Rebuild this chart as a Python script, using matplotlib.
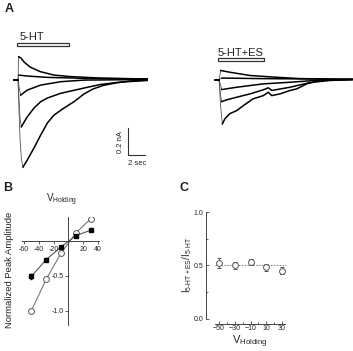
import matplotlib
matplotlib.use("Agg")
import matplotlib.pyplot as plt
import numpy as np
from matplotlib.patches import Rectangle

plt.rcParams['font.family'] = ['Liberation Sans', 'DejaVu Sans']
plt.rcParams['mathtext.fontset'] = 'custom'
plt.rcParams['mathtext.rm'] = 'Liberation Sans'
plt.rcParams['mathtext.it'] = 'Liberation Sans:italic'

# ---- panel A: current traces (time in s, current in nA)
t_ctl_m50 = [-0.47, 0, 0.12, 0.24, 0.41, 0.59, 1.09, 1.88, 2.67, 3.45, 4.24, 5.41, 6.59, 7.76, 8.82, 10.0, 11.41, 13.18, 15.18]
i_ctl_m50 = [0, 0, -0.226, -0.448, -0.596, -0.648, -0.596, -0.507, -0.411, -0.322, -0.263, -0.211, -0.164, -0.107, -0.070, -0.044, -0.026, -0.011, -0.004]
t_ctl_m30 = [-0.47, 0, 0.12, 0.24, 0.39, 1.09, 1.88, 2.67, 3.45, 5.02, 7.76, 9.65, 12.0, 15.18]
i_ctl_m30 = [0, 0, -0.152, -0.285, -0.350, -0.276, -0.211, -0.164, -0.137, -0.102, -0.063, -0.037, -0.019, -0.007]
t_ctl_m10 = [-0.47, 0, 0.18, 0.32, 1.09, 2.67, 5.02, 7.76, 15.18]
i_ctl_m10 = [0, 0, -0.078, -0.115, -0.078, -0.041, -0.016, -0.004, 0]
t_ctl_p10 = [-0.47, 0, 0.08, 1.09, 3.45, 7.76, 15.18]
i_ctl_p10 = [0, 0, 0.033, 0.026, 0.016, 0.009, 0.004]
t_ctl_p30 = [-0.47, 0, 0.08, 0.35, 0.71, 1.41, 2.59, 4.24, 6.12, 9.65, 15.18]
i_ctl_p30 = [0, 0, 0.169, 0.159, 0.130, 0.093, 0.059, 0.033, 0.022, 0.011, 0.004]

t_es_m50 = [-0.47, 0, 0.18, 0.39, 0.71, 1.29, 2.08, 2.86, 4.0, 5.21, 5.8, 6.2, 7.18, 8.35, 9.14, 10.32, 11.88, 15.65]
i_es_m50 = [0, 0, -0.193, -0.328, -0.289, -0.252, -0.230, -0.193, -0.143, -0.119, -0.094, -0.119, -0.106, -0.081, -0.069, -0.032, -0.007, 0]
t_es_m30 = [-0.47, 0, 0.18, 0.32, 0.91, 2.08, 3.65, 5.21, 5.8, 6.2, 8.35, 10.71, 13.06, 15.65]
i_es_m30 = [0, 0, -0.119, -0.163, -0.150, -0.131, -0.106, -0.076, -0.061, -0.081, -0.057, -0.022, -0.007, 0]
t_es_m10 = [-0.47, 0, 0.32, 2.08, 5.21, 8.35, 11.88, 15.65]
i_es_m10 = [0, 0, -0.074, -0.057, -0.032, -0.020, -0.004, 0]
t_es_p10 = [-0.47, 0, 0.35, 4.82, 15.65]
i_es_p10 = [0, 0, 0.011, 0.007, 0.002]
t_es_p30 = [-0.47, 0, 0.2, 1.29, 3.65, 6.71, 9.53, 15.65]
i_es_p30 = [0, 0, 0.067, 0.054, 0.030, 0.017, 0.007, 0.002]

# ---- panel B: I-V
v_hold = [-50, -30, -10, 10, 30]
amp_filled = [-0.51, -0.27, -0.09, 0.07, 0.15]
err_filled = [0.03, 0.02, 0.015, 0.015, 0.015]
amp_open = [-1.0, -0.55, -0.18, 0.11, 0.31]
err_open = [0.0, 0.02, 0.015, 0.015, 0.015]

# ---- panel C: ratio
ratio = [0.52, 0.50, 0.53, 0.48, 0.45]
ratio_err = [0.045, 0.035, 0.03, 0.03, 0.03]

W, H = 353, 351
TXT = '#222222'


def px_rect(l, t, r, b):
    return [l / W, 1 - b / H, (r - l) / W, (b - t) / H]


def draw_trace(ax, t, i, offset=0.0):
    t = np.asarray(t) + offset
    i = np.asarray(i)
    k = int(np.argmax(np.abs(i)))
    # fast onset drawn thin, like the sweep on the original record
    ax.plot(t[1:k + 1], i[1:k + 1], color='#555555', lw=0.6)
    ax.plot(t[:2], i[:2], color='black', lw=1.2)
    ax.plot(t[k:], i[k:], color='black', lw=1.1)


fig = plt.figure(figsize=(W / 100, H / 100), dpi=100)

# ================= A
axA = fig.add_axes(px_rect(0, 20, 353, 180))
axA.set_xlim(-2.118, 39.41)
axA.set_ylim(-0.744, 0.441)
axA.axis('off')

es_offset = 23.65  # start of the second set of traces
for t, i in [(t_ctl_m50, i_ctl_m50), (t_ctl_m30, i_ctl_m30), (t_ctl_m10, i_ctl_m10),
             (t_ctl_p10, i_ctl_p10), (t_ctl_p30, i_ctl_p30)]:
    draw_trace(axA, t, i)
for t, i in [(t_es_m50, i_es_m50), (t_es_m30, i_es_m30), (t_es_m10, i_es_m10),
             (t_es_p10, i_es_p10), (t_es_p30, i_es_p30)]:
    draw_trace(axA, t, i, es_offset)

axA.add_patch(Rectangle((-0.12, 0.248), 6.12, 0.022, facecolor='white', edgecolor='#333333', lw=0.9))
axA.add_patch(Rectangle((23.53, 0.137), 5.41, 0.022, facecolor='white', edgecolor='#333333', lw=0.9))
axA.text(0.24, 0.293, '5-HT', fontsize=8, color=TXT, va='baseline', ha='left')
axA.text(23.53, 0.174, '5-HT+ES', fontsize=8, color=TXT, va='baseline', ha='left')

# scale bar
axA.plot([12.94, 12.94, 14.94], [-0.359, -0.559, -0.559], color='#333333', lw=0.8)
axA.text(12.0, -0.46, '0.2 nA', rotation=90, fontsize=5.5, color=TXT, ha='center', va='center')
axA.text(14.0, -0.62, '2 sec', fontsize=5.5, color=TXT, ha='center', va='center')

# ================= B
axB = fig.add_axes(px_rect(22.5, 216.9, 22.5 + 103 * 0.74, 324.7))
axB.set_xlim(-62, 41)
axB.set_ylim(-1.2, 0.34)
for s in ['top', 'right']:
    axB.spines[s].set_visible(False)
axB.spines['left'].set_position(('data', 0))
axB.spines['bottom'].set_position(('data', 0))
for s in ['left', 'bottom']:
    axB.spines[s].set_color('#444444')
    axB.spines[s].set_linewidth(0.7)
axB.set_xticks([-60, -40, -20, 20, 40])
axB.set_xticklabels(['-60', '-40', '-20', '20', '40'])
axB.set_yticks([-1.0, -0.5])
axB.set_yticklabels(['-1.0', '-0.5'])
axB.tick_params(labelsize=5, colors='#444444', labelcolor=TXT, length=2, width=0.6, pad=1.5)
axB.plot(v_hold, amp_open, color='#777777', lw=0.8, zorder=1)
axB.plot(v_hold, amp_filled, color='#555555', lw=0.8, zorder=1)
axB.errorbar(v_hold, amp_open, yerr=err_open, fmt='o', ms=4.2, mfc='white', mec='#555555',
             mew=0.7, ecolor='#555555', elinewidth=0.6, capsize=0, zorder=3)
axB.errorbar(v_hold, amp_filled, yerr=err_filled, fmt='s', ms=3.0, mfc='black', mec='black',
             ecolor='black', elinewidth=0.6, capsize=1, zorder=4)
fig.text(62 / W, 1 - 200 / H, r'V$_{\mathrm{Holding}}$', fontsize=7, color=TXT, ha='center', va='center')
fig.text(10 / W, 1 - 270 / H, 'Normalized Peak Amplitude', fontsize=6.8, color=TXT,
         rotation=90, ha='center', va='center')

# ================= C
axC = fig.add_axes(px_rect(206, 212, 289.9, 318.5))
axC.set_xlim(-66.5, 40)
axC.set_ylim(0, 1)
for s in ['top', 'right']:
    axC.spines[s].set_visible(False)
axC.spines['bottom'].set_position(('outward', 4.0))
axC.spines['bottom'].set_bounds(-55, 34)
for s in ['left', 'bottom']:
    axC.spines[s].set_color('#444444')
    axC.spines[s].set_linewidth(0.7)
axC.set_xticks(v_hold)
axC.set_xticks([-40, -20, 0, 20], minor=True)
axC.set_yticks([0.0, 0.5, 1.0])
axC.set_yticks([0.25, 0.75], minor=True)
axC.tick_params(which='both', direction='in', labelsize=5, colors='#444444', labelcolor=TXT,
                length=2, width=0.6, pad=2)
axC.tick_params(axis='x', which='both', pad=1)
axC.tick_params(which='minor', length=1.5)
axC.plot([-55, 35], [0.5, 0.5], color='#777777', lw=0.7, ls=(0, (1.5, 1.5)), zorder=1)
axC.errorbar(v_hold, ratio, yerr=ratio_err, fmt='o', ms=4.2, mfc='white', mec='#555555',
             mew=0.7, ecolor='#555555', elinewidth=0.6, capsize=1.2, zorder=3)
fig.text(250 / W, 1 / H, r'V$_{\mathrm{Holding}}$', fontsize=8, color=TXT, ha='center', va='bottom')
fig.text(187 / W, 1 - 265 / H, r'I$_{\mathrm{5\text{-}HT+ES}}$/I$_{\mathrm{5\text{-}HT}}$', fontsize=7,
         color=TXT, rotation=90, ha='center', va='center')

# panel letters
fig.text(5 / W, 1 - 9 / H, 'A', fontsize=9, fontweight='bold', color=TXT, va='center')
fig.text(3 / W, 1 - 188 / H, 'B', fontsize=9, fontweight='bold', color=TXT, va='center')
fig.text(180 / W, 1 - 188 / H, 'C', fontsize=9, fontweight='bold', color=TXT, va='center')

fig.savefig('out.png', dpi=100)
